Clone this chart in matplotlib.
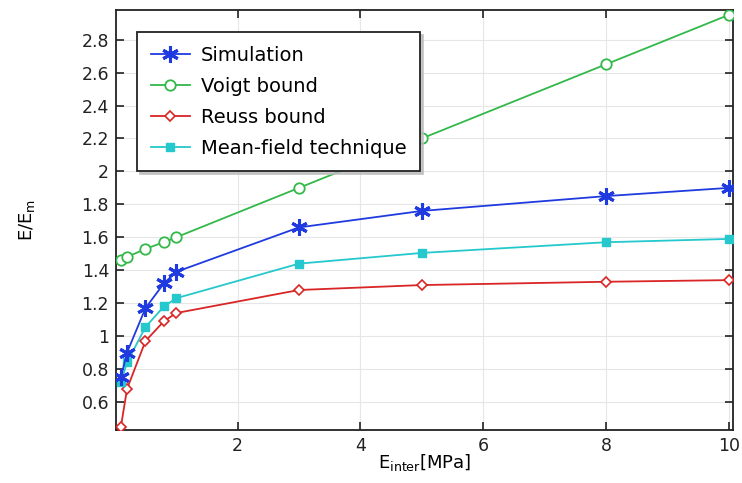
import matplotlib
matplotlib.use("Agg")
import matplotlib.pyplot as plt
from matplotlib.ticker import FuncFormatter

# Interphase modulus [MPa]
e_inter = [0.1, 0.2, 0.5, 0.8, 1, 3, 5, 8, 10]

simulation = [0.75, 0.90, 1.17, 1.32, 1.39, 1.66, 1.76, 1.85, 1.90]
voigt = [1.46, 1.48, 1.53, 1.57, 1.60, 1.90, 2.20, 2.65, 2.95]
reuss = [0.45, 0.68, 0.97, 1.09, 1.14, 1.28, 1.31, 1.33, 1.34]
mean_field = [0.72, 0.84, 1.055, 1.18, 1.23, 1.44, 1.505, 1.57, 1.59]

labels = ["Simulation", "Voigt bound", "Reuss bound", "Mean-field technique"]

x_ticks = [2, 4, 6, 8, 10]
y_ticks = [0.6, 0.8, 1, 1.2, 1.4, 1.6, 1.8, 2, 2.2, 2.4, 2.6, 2.8]

plt.rcParams["font.family"] = "DejaVu Sans"

fig = plt.figure(figsize=(7.42, 4.83), dpi=100)
ax = fig.add_axes([116 / 742, 1 - 430 / 483, (733 - 116) / 742, (430 - 10) / 483])

ax.plot(e_inter, simulation, color="#1f3be0", lw=1.3, marker=(6, 2, 0),
        ms=12, mew=2.2, label=labels[0], zorder=5)
ax.plot(e_inter, voigt, color="#33b84a", lw=1.3, marker="o", ms=7.5,
        mfc="white", mew=1.3, label=labels[1], zorder=4)
ax.plot(e_inter, reuss, color="#d92525", lw=1.3, marker="D", ms=5.5,
        mfc="white", mew=1.2, label=labels[2], zorder=4)
ax.plot(e_inter, mean_field, color="#25c8cc", lw=1.3, marker="s", ms=5.5,
        label=labels[3], zorder=4)

ax.set_xlim(0.02, 10.07)
ax.set_ylim(0.43, 2.98)
fmt = FuncFormatter(lambda v, p: "%g" % round(v, 2))
ax.xaxis.set_major_formatter(fmt)
ax.yaxis.set_major_formatter(fmt)
ax.set_xticks(x_ticks)
ax.set_yticks(y_ticks)

ax.tick_params(direction="in", top=True, right=True, length=6, width=1.2,
               labelsize=12.5, colors="#222222", pad=5)
ax.grid(True, color="#e6e6e6", lw=0.8)
ax.set_axisbelow(True)
for s in ax.spines.values():
    s.set_linewidth(1.3)
    s.set_color("#222222")

ax.set_xlabel("E$_{\\mathregular{inter}}$[MPa]", fontsize=13, labelpad=-2)
ax.set_ylabel("E/E$_{\\mathregular{m}}$", fontsize=13, labelpad=32)

leg = ax.legend(loc="upper left", bbox_to_anchor=(21 / 617, 1 - 22 / 420),
                borderaxespad=0, fontsize=14, frameon=True, fancybox=False,
                shadow={"color": "#bbbbbb", "alpha": 0.8}, borderpad=0.7,
                handlelength=2.0, handletextpad=0.6, labelspacing=0.62,
                edgecolor="#222222")
leg.get_frame().set_linewidth(1.3)

fig.savefig("out.png", dpi=100)
